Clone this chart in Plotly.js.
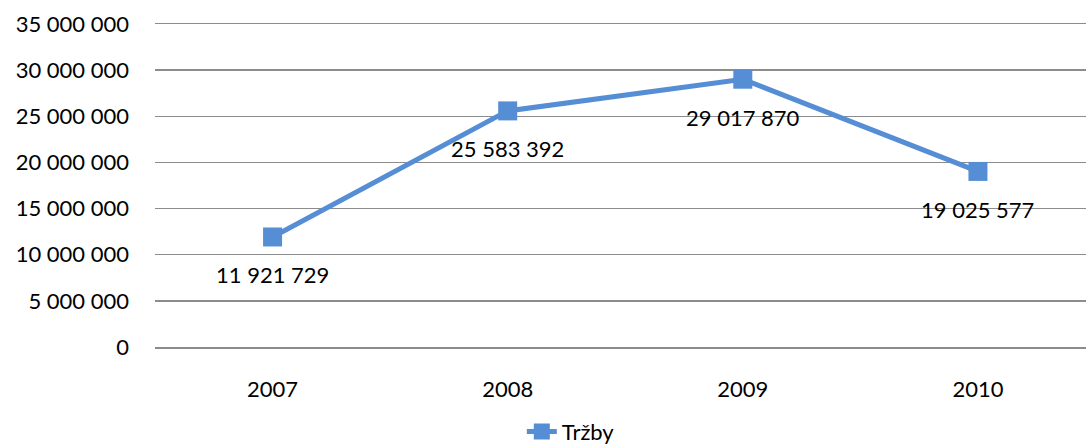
<!DOCTYPE html>
<html><head><meta charset="utf-8">
<script src="https://cdn.plot.ly/plotly-3.0.1.min.js"></script>
<style>html,body{margin:0;padding:0;overflow:hidden;background:#fff}</style>
</head><body><div id="chart" style="width:1086px;height:448px"></div>
<script>
const years = ["2007", "2008", "2009", "2010"];
const trzby = [11921729, 25583392, 29017870, 19025577];
const seriesName = "Tržby";
const yTicks = [0, 5000000, 10000000, 15000000, 20000000, 25000000, 30000000, 35000000];

function fmt(v) { return String(v).replace(/\B(?=(\d{3})+(?!\d))/g, " "); }

const FONT = "Lato, 'Open Sans', sans-serif";
const BLUE = "#558ed5";
const GRID = "#8c8c8c";

const trace = {
  x: [0, 1, 2, 3], y: trzby, name: seriesName, type: "scatter", mode: "lines+markers",
  line: {color: BLUE, width: 5},
  marker: {symbol: "square", size: 19, color: BLUE},
  hoverinfo: "skip"
};

const annotations = trzby.map((v, i) => ({
  x: i, y: v, xref: "x", yref: "y", text: fmt(v), showarrow: false,
  yshift: -38, font: {family: FONT, size: 22, color: "#000"}
}));

const layout = {
  width: 1086, height: 448,
  margin: {l: 155, r: 0, t: 24, b: 101, pad: 0, autoexpand: false},
  paper_bgcolor: "#fff", plot_bgcolor: "#fff",
  showlegend: true,
  legend: {orientation: "h", x: 0.394, xanchor: "left", y: -0.262, yanchor: "middle",
           font: {family: FONT, size: 22, color: "#000"}, itemwidth: 30},
  xaxis: {range: [-0.5, 3.4596], tickmode: "array", tickvals: [0, 1, 2, 3], ticktext: years,
          showgrid: false, zeroline: false, showline: true, mirror: true,
          linecolor: GRID, linewidth: 1.5, ticks: "", automargin: false,
          ticklabelstandoff: 22, tickfont: {family: FONT, size: 22, color: "#000"}},
  yaxis: {range: [0, 35000000], tickmode: "array", tickvals: yTicks, ticktext: yTicks.map(fmt),
          showgrid: true, gridcolor: GRID, gridwidth: 1.5, zeroline: false, showline: false,
          automargin: false,
          ticks: "", ticklabelstandoff: 25, tickfont: {family: FONT, size: 22, color: "#000"}},
  annotations: annotations
};

Plotly.newPlot("chart", [trace], layout, {displayModeBar: false, staticPlot: true});
</script></body></html>
